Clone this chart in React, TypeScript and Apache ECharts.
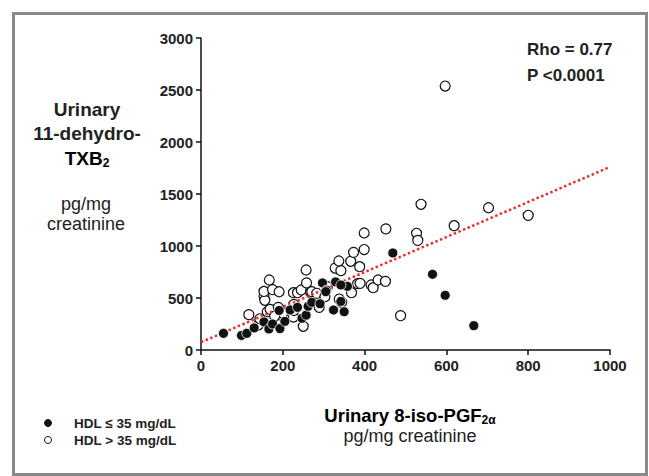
import React, { useEffect, useRef } from "react";
import * as echarts from "echarts";

const lowHdl: [number, number][] = [
  [55, 160], [99, 140], [112, 160], [130, 212], [154, 270], [166, 202], [175, 250],
  [193, 206], [205, 275], [191, 380], [218, 385], [236, 410], [247, 305], [257, 335],
  [262, 420], [271, 458], [291, 445], [297, 645], [307, 575], [329, 655], [342, 467],
  [324, 385], [350, 368], [358, 612], [305, 561], [342, 625], [469, 933], [566, 728],
  [597, 526], [667, 234],
];

const highHdl: [number, number][] = [
  [117, 340], [140, 240], [144, 300], [162, 368], [169, 391], [189, 410], [193, 337],
  [154, 519], [156, 478], [154, 563], [167, 673], [175, 580], [191, 560], [226, 551],
  [236, 551], [245, 577], [257, 769], [258, 645], [268, 555], [271, 561], [283, 545],
  [226, 317], [250, 228], [227, 439], [227, 380], [289, 410], [303, 513], [309, 609],
  [338, 490], [344, 458], [328, 788], [342, 763], [337, 856], [366, 853], [373, 939],
  [388, 801], [383, 638], [368, 551], [399, 1125], [399, 966], [389, 641], [416, 625],
  [421, 599], [433, 673], [451, 660], [452, 1165], [488, 330], [527, 1122], [530, 1054],
  [538, 1401], [597, 2538], [619, 1195], [703, 1368], [800, 1295], [200, 355], [180, 325],
];

const trendX = [0, 1000];
const trendY = [75, 1760];

const legendLabels = ["HDL \u2264 35 mg/dL", "HDL > 35 mg/dL"];
const statLines = ["Rho = 0.77", "P <0.0001"];

export default function App() {
  const ref = useRef<HTMLDivElement>(null);
  useEffect(() => {
    if (!ref.current) return;
    const chart = echarts.init(ref.current, null, { renderer: "svg" });
    const font = "'Liberation Sans', Arial, sans-serif";
    const subRich = {
      b: { fontFamily: font, fontWeight: "bold", fontSize: 19, color: "#222" },
      sub: { fontFamily: font, fontWeight: "bold", fontSize: 12, color: "#222", verticalAlign: "bottom", padding: [10, 0, 0, 0] },
    };
    const axisLabel = {
      fontFamily: font, fontWeight: "bold", fontSize: 15, color: "#222", margin: 8,
      formatter: (v: number) => String(v),
    };
    chart.setOption({
      animation: false,
      backgroundColor: "#fff",
      grid: { left: 201, right: 39, top: 38, bottom: 126, containLabel: false },
      xAxis: {
        type: "value", min: 0, max: 1000, interval: 200,
        axisLine: { show: true, lineStyle: { color: "#111", width: 1.5 } },
        axisTick: { show: true, length: 5, lineStyle: { color: "#111", width: 1.5 } },
        splitLine: { show: false },
        axisLabel,
      },
      yAxis: {
        type: "value", min: 0, max: 3000, interval: 500,
        axisLine: { show: true, lineStyle: { color: "#111", width: 1.5 } },
        axisTick: { show: true, length: 5, lineStyle: { color: "#111", width: 1.5 } },
        splitLine: { show: false },
        axisLabel,
      },
      series: [
        {
          type: "line", data: trendX.map((x, i) => [x, trendY[i]]), symbol: "none",
          lineStyle: { color: "#e8302c", width: 2.5, type: [2.5, 2.5] }, z: 3,
        },
        {
          type: "scatter", data: highHdl, symbol: "circle", symbolSize: 10,
          itemStyle: { color: "#fff", borderColor: "#111", borderWidth: 1.2, opacity: 1 }, z: 2,
        },
        {
          type: "scatter", data: lowHdl, symbol: "circle", symbolSize: 10,
          itemStyle: { color: "#111", borderColor: "#fff", borderWidth: 0.8, opacity: 1 }, z: 4,
        },
      ],
      graphic: [
        {
          type: "rect", shape: { x: 13.5, y: 13.5, width: 633, height: 461 },
          style: { fill: "none", stroke: "#8a8a8a", lineWidth: 3 }, silent: true,
        },
        { type: "text", x: 87, y: 109, style: { text: "Urinary", font: `bold 19px ${font}`, fill: "#222", align: "center", verticalAlign: "middle" } },
        { type: "text", x: 87, y: 133, style: { text: "11-dehydro-", font: `bold 19px ${font}`, fill: "#222", align: "center", verticalAlign: "middle" } },
        {
          type: "text", x: 87, y: 158,
          style: { text: "{b|TXB}{sub|2}", rich: subRich, align: "center", verticalAlign: "middle" },
        },
        { type: "text", x: 86, y: 204, style: { text: "pg/mg", font: `18px ${font}`, fill: "#222", align: "center", verticalAlign: "middle" } },
        { type: "text", x: 86, y: 224, style: { text: "creatinine", font: `18px ${font}`, fill: "#222", align: "center", verticalAlign: "middle" } },
        {
          type: "text", x: 410, y: 415,
          style: { text: "{b|Urinary 8-iso-PGF}{sub|2\u03b1}", rich: { ...subRich, b: { ...subRich.b, fontSize: 18.5 } }, align: "center", verticalAlign: "middle" },
        },
        { type: "text", x: 410, y: 436, style: { text: "pg/mg creatinine", font: `18px ${font}`, fill: "#222", align: "center", verticalAlign: "middle" } },
        { type: "text", x: 527, y: 49, style: { text: statLines[0], font: `bold 17px ${font}`, fill: "#222", align: "left", verticalAlign: "middle" } },
        { type: "text", x: 527, y: 75, style: { text: statLines[1], font: `bold 17px ${font}`, fill: "#222", align: "left", verticalAlign: "middle" } },
        { type: "circle", shape: { cx: 48, cy: 423, r: 3.5 }, style: { fill: "#111", stroke: "#111", lineWidth: 1 } },
        { type: "circle", shape: { cx: 48, cy: 440, r: 3.5 }, style: { fill: "#fff", stroke: "#111", lineWidth: 1 } },
        { type: "text", x: 74, y: 423, style: { text: legendLabels[0], font: `bold 13.5px ${font}`, fill: "#222", align: "left", verticalAlign: "middle" } },
        { type: "text", x: 74, y: 440, style: { text: legendLabels[1], font: `bold 13.5px ${font}`, fill: "#222", align: "left", verticalAlign: "middle" } },
      ],
    });
    return () => chart.dispose();
  }, []);
  return <div ref={ref} style={{ position: "fixed", left: 0, top: 0, width: 649, height: 476 }} />;
}
